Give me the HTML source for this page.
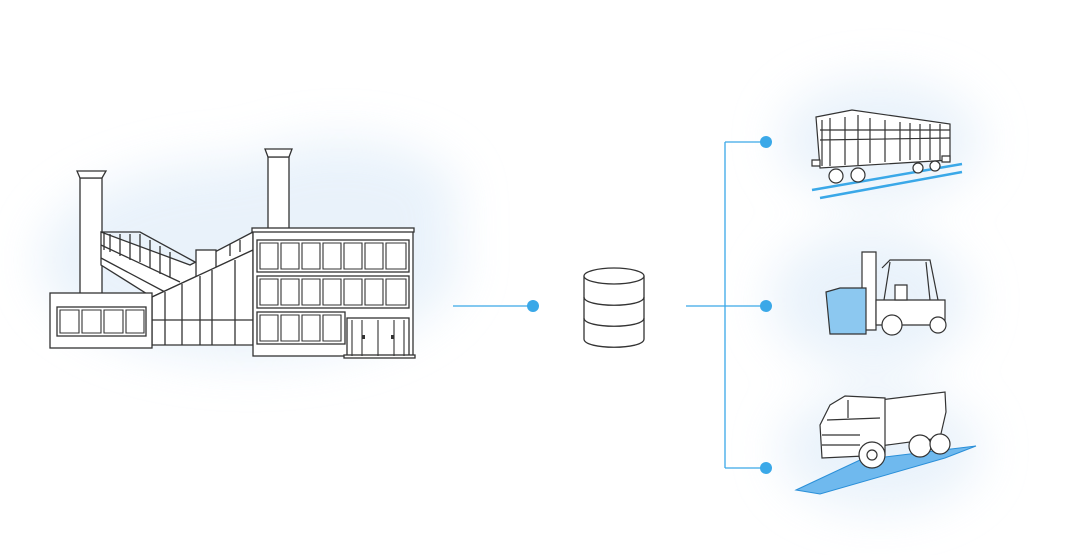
<!DOCTYPE html>
<html><head><meta charset="utf-8"><style>html,body{margin:0;padding:0;background:#fff}svg{display:block}</style></head><body>
<svg width="1080" height="555" viewBox="0 0 1080 555" xmlns="http://www.w3.org/2000/svg">
<defs><filter id="b" x="-50%" y="-50%" width="200%" height="200%"><feGaussianBlur stdDeviation="24"/></filter></defs>
<g filter="url(#b)" fill="#e2eef9" opacity="0.75">
<ellipse cx="250" cy="260" rx="210" ry="100"/>
<ellipse cx="340" cy="200" rx="120" ry="60"/>
<ellipse cx="880" cy="140" rx="100" ry="60"/>
<ellipse cx="870" cy="300" rx="100" ry="70"/>
<ellipse cx="880" cy="450" rx="100" ry="60"/>
</g>
<g stroke="#3aa8e8" stroke-width="1.3" fill="none">
<path d="M453 306H533M686 306H766M725 142V468M725 142H766M725 468H766"/>
</g>
<g fill="#3aa8e8"><circle cx="533" cy="306" r="6"/><circle cx="766" cy="142" r="6"/><circle cx="766" cy="306" r="6"/><circle cx="766" cy="468" r="6"/></g>
<!-- database -->
<g stroke="#333" stroke-width="1.3" fill="#fff">
<path d="M584 276V339C584 350 644 350 644 339V276"/>
<ellipse cx="614" cy="276" rx="30" ry="8"/>
<path d="M584 297C584 308 644 308 644 297M584 318C584 329 644 329 644 318" fill="none"/>
</g>
<!-- factory -->
<g stroke="#333" stroke-width="1.3" fill="#fff">
<rect x="80" y="178" width="22" height="118"/>
<path d="M77 171H106L102 178H80Z"/>
<path d="M101 232L190 265L253 232V250L152 297L101 265Z"/>
<path d="M101 232H140L195 262M101 245L180 282M101 258L165 292M104 232V250M110 234V252M120 234V256M130 234V260M140 234V262M150 240V268M160 246V274M170 252V278M230 244V256M240 240V252" fill="none"/>
<rect x="196" y="250" width="20" height="30"/>
<rect x="268" y="157" width="21" height="73"/>
<path d="M265 149H292L289 157H268Z"/>
<path d="M152 297L253 250V345H152Z"/>
<path d="M152 320H253M165 292V345M182 284V345M200 276V345M212 270V345M235 260V345" fill="none"/>
<rect x="50" y="293" width="102" height="55"/>
<rect x="57" y="307" width="89" height="29"/>
<rect x="253" y="231" width="160" height="125"/>
<rect x="252" y="228" width="162" height="4"/>
<rect x="257" y="240" width="152" height="32"/>
<rect x="257" y="276" width="152" height="32"/>
<rect x="257" y="312" width="88" height="32"/>
<rect x="347" y="318" width="62" height="38"/>
<rect x="344" y="355" width="71" height="3"/>
</g>
<g stroke="#333" stroke-width="1.1" fill="none">
<path d="M60 310h19v23h-19zM82 310h19v23h-19zM104 310h19v23h-19zM126 310h18v23h-18z"/>
<path d="M260 243h18v26h-18zM281 243h18v26h-18zM302 243h18v26h-18zM323 243h18v26h-18zM344 243h18v26h-18zM365 243h18v26h-18zM386 243h20v26h-20z"/>
<path d="M260 279h18v26h-18zM281 279h18v26h-18zM302 279h18v26h-18zM323 279h18v26h-18zM344 279h18v26h-18zM365 279h18v26h-18zM386 279h20v26h-20z"/>
<path d="M260 315h18v26h-18zM281 315h18v26h-18zM302 315h18v26h-18zM323 315h18v26h-18z"/>
<path d="M352 320V356M362 320V356M378 320V356M394 320V356M404 320V356"/>
</g>
<g fill="#333"><rect x="362" y="335" width="3" height="4"/><rect x="391" y="335" width="3" height="4"/></g>
<!-- train -->
<g stroke="#3aa8e8" stroke-width="2.5"><path d="M812 190L962 164M820 198L962 172"/></g>
<g stroke="#333" stroke-width="1.2" fill="#fff">
<path d="M816 117L852 110L950 124V160L820 168Z"/>
<path d="M822 120V166M830 118V166M845 117V165M858 115V165M870 118V163M885 120V162M900 122V161M910 123V160M920 124V160M930 124V160M940 124V160M820 140L950 138M820 130L950 130" fill="none"/>
<circle cx="836" cy="176" r="7"/><circle cx="858" cy="175" r="7"/><circle cx="918" cy="168" r="5"/><circle cx="935" cy="166" r="5"/>
<path d="M812 160h8v6h-8zM942 156h8v6h-8z"/>
</g>
<!-- forklift -->
<g stroke="#333" stroke-width="1.2" fill="#fff">
<path d="M862 252H876V330H862Z"/>
<path d="M882 268L890 260H930L938 300M890 262L884 300M926 262L930 300" fill="none"/>
<path d="M876 300H945V325H876Z"/>
<path d="M895 285h12v15h-12z"/>
<circle cx="892" cy="325" r="10"/><circle cx="938" cy="325" r="8"/>
</g>
<path d="M826 292L840 288H866V334H830Z" fill="#8cc8f0" stroke="#333" stroke-width="1.2"/>
<!-- truck -->
<path d="M796 490L860 460L976 446L945 458L820 494Z" fill="#6fb9ee" stroke="#2a8fd8" stroke-width="1"/>
<g stroke="#333" stroke-width="1.2" fill="#fff">
<path d="M880 400L945 392L946 412L940 438L880 446Z"/>
<path d="M830 405L845 396L885 398V455L822 458L820 425Z"/>
<path d="M827 420L880 418M848 400V418M822 435H860M822 445H860" fill="none"/>
<circle cx="872" cy="455" r="13"/><circle cx="872" cy="455" r="5"/><circle cx="920" cy="446" r="11"/><circle cx="940" cy="444" r="10"/>
</g>
</svg>
</body></html>
